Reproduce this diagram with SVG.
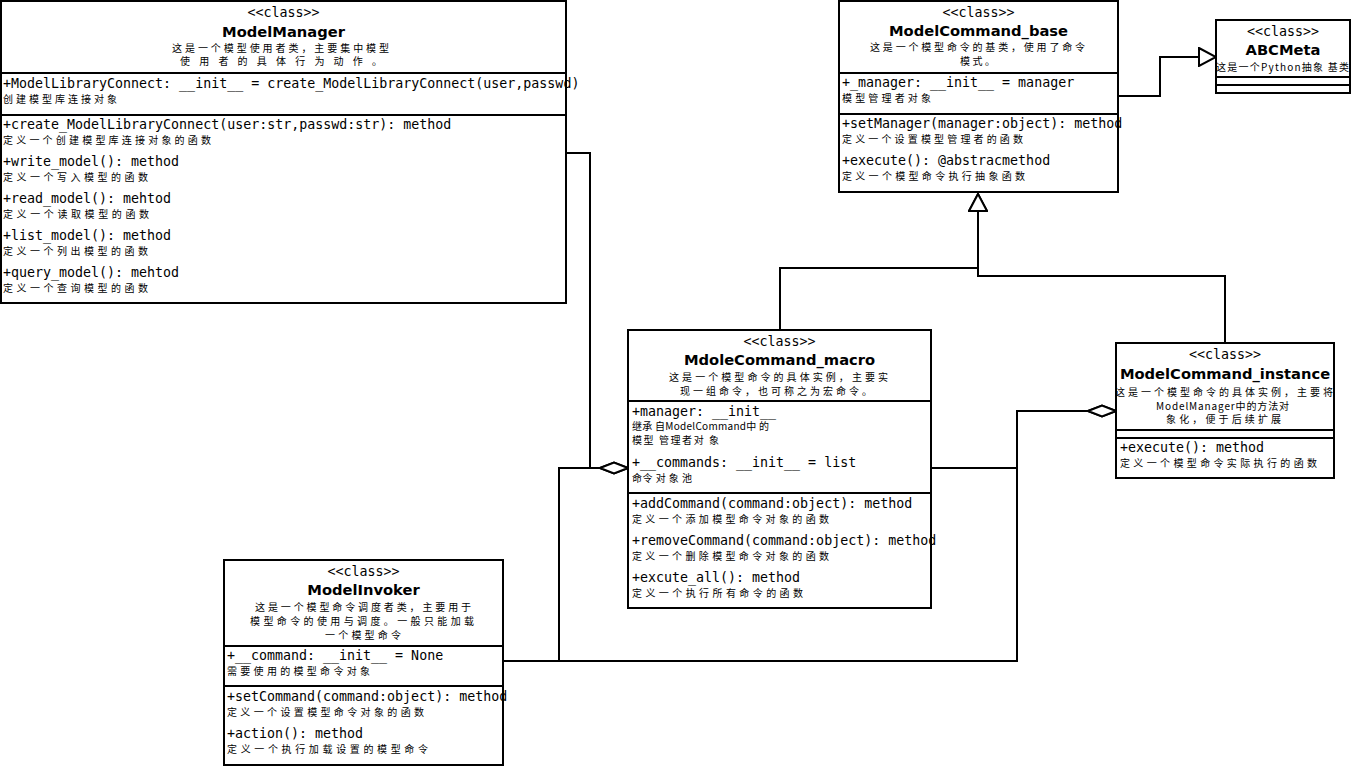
<svg xmlns="http://www.w3.org/2000/svg" width="1351" height="766" viewBox="0 0 1351 766">
<style>
.box{fill:#fff;stroke:#000;stroke-width:2}
.ln{fill:none;stroke:#000;stroke-width:2}
.m{font-family:"DejaVu Sans Mono","Liberation Mono",monospace;font-size:13.3px;fill:#000}
.mc{font-family:"DejaVu Sans Mono","Liberation Mono",monospace;font-size:13.3px;fill:#000;text-anchor:middle}
.t{font-family:"DejaVu Sans","Liberation Sans",sans-serif;font-weight:bold;font-size:14.7px;text-anchor:middle;fill:#000}
.c{font-family:"Noto Sans CJK SC","Noto Sans",sans-serif;font-size:10px;fill:#000}
</style>
<defs>
<marker id="tri" viewBox="0 0 20 20" refX="18" refY="10" markerWidth="20" markerHeight="20" markerUnits="userSpaceOnUse" orient="auto">
<path d="M1,1 L18,10 L1,19 Z" fill="#fff" stroke="#000" stroke-width="2"/>
</marker>
<marker id="dia" viewBox="0 0 30 14" refX="29" refY="7" markerWidth="30" markerHeight="14" markerUnits="userSpaceOnUse" orient="auto">
<path d="M1,7 L15,1.5 L29,7 L15,12.5 Z" fill="#fff" stroke="#000" stroke-width="2"/>
</marker>
</defs>
<rect width="1351" height="766" fill="#fff"/>

<g id="connectors">
<polyline class="ln" points="566,153 590,153 590,468 628,468" marker-end="url(#dia)"/>
<polyline class="ln" points="503,661 559,661 559,468 628,468" marker-end="url(#dia)"/>
<polyline class="ln" points="503,661 1017,661 1017,411 1116,411" marker-end="url(#dia)"/>
<polyline class="ln" points="931,468 1017,468 1017,411 1116,411" marker-end="url(#dia)"/>
<polyline class="ln" points="780,330 780,268 978,268 978,194" marker-end="url(#tri)"/>
<polyline class="ln" points="1225,343 1225,276 978,276 978,194" marker-end="url(#tri)"/>
<polyline class="ln" points="1118,96 1160,96 1160,57 1216,57" marker-end="url(#tri)"/>
</g>

<g id="ModelManager">
<rect class="box" x="1" y="1" width="565" height="302"/>
<line class="ln" x1="1" y1="73" x2="566" y2="73"/>
<line class="ln" x1="1" y1="115" x2="566" y2="115"/>
<text class="mc" x="283.5" y="17">&lt;&lt;class&gt;&gt;</text>
<text class="t" x="283.5" y="37">ModelManager</text>
<text class="c" x="172" y="52" textLength="217" lengthAdjust="spacing">这是一个模型使用者类，主要集中模型</text>
<text class="c" x="180" y="65" textLength="202" lengthAdjust="spacing">使用者的具体行为动作。</text>
<text class="m" x="3" y="88">+ModelLibraryConnect: __init__ = create_ModelLibraryConnect(user,passwd)</text>
<text class="c" x="3" y="103" textLength="114" lengthAdjust="spacing">创建模型库连接对象</text>
<text class="m" x="3" y="129">+create_ModelLibraryConnect(user:str,passwd:str): method</text>
<text class="c" x="3" y="144" textLength="208" lengthAdjust="spacing">定义一个创建模型库连接对象的函数</text>
<text class="m" x="3" y="166">+write_model(): method</text>
<text class="c" x="3" y="181" textLength="145" lengthAdjust="spacing">定义一个写入模型的函数</text>
<text class="m" x="3" y="203">+read_model(): mehtod</text>
<text class="c" x="3" y="218" textLength="146" lengthAdjust="spacing">定义一个读取模型的函数</text>
<text class="m" x="3" y="240">+list_model(): method</text>
<text class="c" x="3" y="255" textLength="145" lengthAdjust="spacing">定义一个列出模型的函数</text>
<text class="m" x="3" y="277">+query_model(): mehtod</text>
<text class="c" x="3" y="292" textLength="145" lengthAdjust="spacing">定义一个查询模型的函数</text>
</g>

<g id="ModelCommand_base">
<rect class="box" x="839" y="1" width="279" height="191"/>
<line class="ln" x1="839" y1="73" x2="1118" y2="73"/>
<line class="ln" x1="839" y1="114" x2="1118" y2="114"/>
<text class="mc" x="978.5" y="17">&lt;&lt;class&gt;&gt;</text>
<text class="t" x="978.5" y="36">ModelCommand_base</text>
<text class="c" x="870" y="51" textLength="215" lengthAdjust="spacing">这是一个模型命令的基类，使用了命令</text>
<text class="c" x="960" y="65" textLength="35" lengthAdjust="spacing">模式。</text>
<text class="m" x="842" y="87">+_manager: __init__ = manager</text>
<text class="c" x="842" y="102" textLength="89" lengthAdjust="spacing">模型管理者对象</text>
<text class="m" x="842" y="128">+setManager(manager:object): method</text>
<text class="c" x="842" y="143" textLength="181" lengthAdjust="spacing">定义一个设置模型管理者的函数</text>
<text class="m" x="842" y="165">+execute(): @abstracmethod</text>
<text class="c" x="842" y="180" textLength="183" lengthAdjust="spacing">定义一个模型命令执行抽象函数</text>
</g>

<g id="ABCMeta">
<rect class="box" x="1216" y="20" width="134" height="73"/>
<line class="ln" x1="1216" y1="77" x2="1350" y2="77"/>
<line class="ln" x1="1216" y1="85" x2="1350" y2="85"/>
<text class="mc" x="1283" y="36">&lt;&lt;class&gt;&gt;</text>
<text class="t" x="1283" y="55">ABCMeta</text>
<text class="c" x="1216" y="71" textLength="133" lengthAdjust="spacing">这是一个Python抽象 基类</text>
</g>

<g id="MdoleCommand_macro">
<rect class="box" x="628" y="330" width="303" height="278"/>
<line class="ln" x1="628" y1="401" x2="931" y2="401"/>
<line class="ln" x1="628" y1="493" x2="931" y2="493"/>
<text class="mc" x="779.5" y="346">&lt;&lt;class&gt;&gt;</text>
<text class="t" x="779.5" y="365">MdoleCommand_macro</text>
<text class="c" x="669" y="381" textLength="219" lengthAdjust="spacing">这是一个模型命令的具体实例，主要实</text>
<text class="c" x="680" y="395" textLength="192" lengthAdjust="spacing">现一组命令，也可称之为宏命令。</text>
<text class="m" x="632" y="416">+manager: __init__</text>
<text class="c" x="632" y="430" textLength="137" lengthAdjust="spacing">继承 自ModelCommand中 的</text>
<text class="c" x="632" y="444" textLength="87" lengthAdjust="spacing">模型 管理者对 象</text>
<text class="m" x="632" y="467">+__commands: __init__ = list</text>
<text class="c" x="632" y="482" textLength="60" lengthAdjust="spacing">命令 对 象 池</text>
<text class="m" x="632" y="508">+addCommand(command:object): method</text>
<text class="c" x="632" y="523" textLength="197" lengthAdjust="spacing">定义一个添加模型命令对象的函数</text>
<text class="m" x="632" y="545">+removeCommand(command:object): method</text>
<text class="c" x="632" y="560" textLength="197" lengthAdjust="spacing">定义一个删除模型命令对象的函数</text>
<text class="m" x="632" y="582">+excute_all(): method</text>
<text class="c" x="632" y="597" textLength="171" lengthAdjust="spacing">定义一个执行所有命令的函数</text>
</g>

<g id="ModelCommand_instance">
<rect class="box" x="1116" y="343" width="218" height="135"/>
<line class="ln" x1="1116" y1="430" x2="1334" y2="430"/>
<line class="ln" x1="1116" y1="438" x2="1334" y2="438"/>
<text class="mc" x="1225" y="359">&lt;&lt;class&gt;&gt;</text>
<text class="t" x="1225" y="379">ModelCommand_instance</text>
<text class="c" x="1115" y="396" textLength="218" lengthAdjust="spacing">这是一个模型命令的具体实例，主要将</text>
<text class="c" x="1156" y="410" textLength="133" lengthAdjust="spacing">ModelManager中的方法对</text>
<text class="c" x="1166" y="423" textLength="115" lengthAdjust="spacing">象化，便于后续扩展</text>
<text class="m" x="1120" y="452">+execute(): method</text>
<text class="c" x="1120" y="467" textLength="197" lengthAdjust="spacing">定义一个模型命令实际执行的函数</text>
</g>

<g id="ModelInvoker">
<rect class="box" x="224" y="560" width="279" height="205"/>
<line class="ln" x1="224" y1="646" x2="503" y2="646"/>
<line class="ln" x1="224" y1="686" x2="503" y2="686"/>
<text class="mc" x="363.5" y="576">&lt;&lt;class&gt;&gt;</text>
<text class="t" x="363.5" y="595">ModelInvoker</text>
<text class="c" x="255" y="611" textLength="216" lengthAdjust="spacing">这是一个模型命令调度者类，主要用于</text>
<text class="c" x="250" y="625" textLength="224" lengthAdjust="spacing">模型命令的使用与调度。一般只能加载</text>
<text class="c" x="325" y="639" textLength="76" lengthAdjust="spacing">一个模型命令</text>
<text class="m" x="227" y="660">+__command: __init__ = None</text>
<text class="c" x="227" y="675" textLength="143" lengthAdjust="spacing">需要使用的模型命令对象</text>
<text class="m" x="227" y="701">+setCommand(command:object): method</text>
<text class="c" x="227" y="716" textLength="197" lengthAdjust="spacing">定义一个设置模型命令对象的函数</text>
<text class="m" x="227" y="738">+action(): method</text>
<text class="c" x="227" y="753" textLength="201" lengthAdjust="spacing">定义一个执行加载设置的模型命令</text>
</g>
</svg>
